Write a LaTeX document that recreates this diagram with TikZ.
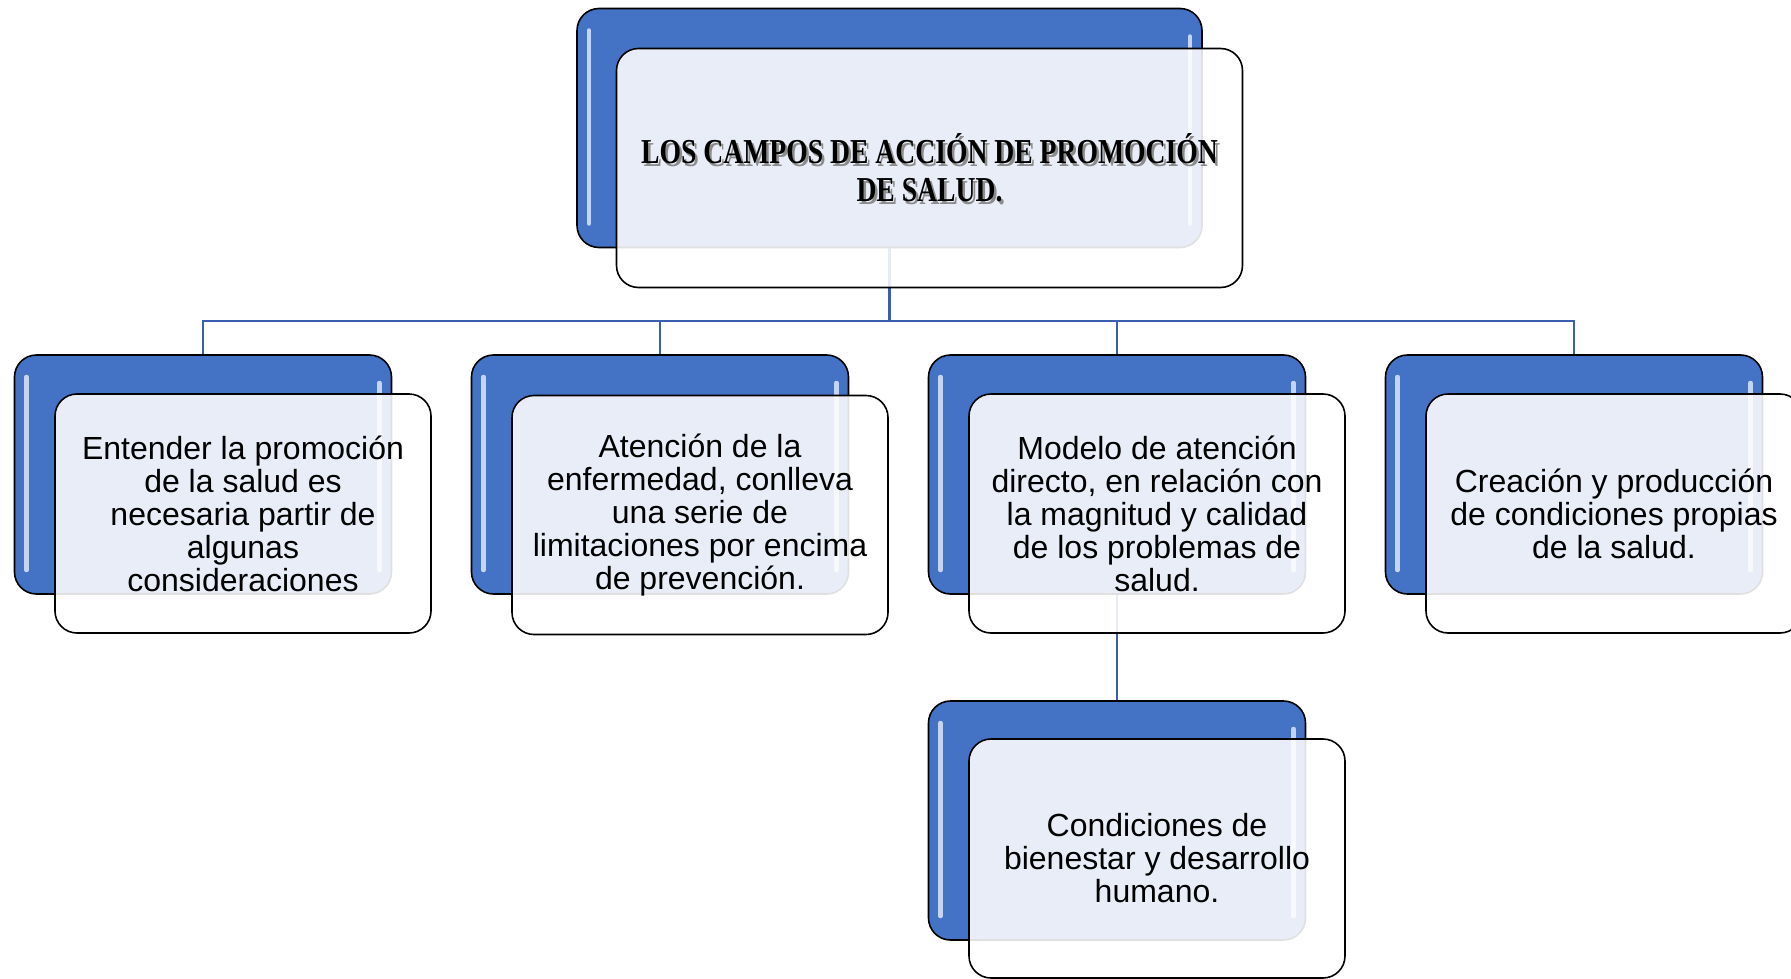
\documentclass[tikz,border=0pt]{standalone}
\usepackage{fontspec}
\setmainfont{Liberation Sans}
\newfontfamily\titlefont{Liberation Serif}[FakeStretch=0.79]
\definecolor{boxblue}{HTML}{4472C4}
\definecolor{connblue}{HTML}{3A5FAE}
\definecolor{gloss}{HTML}{DCE7FA}
\tikzset{
  backbox/.style={draw=black, line width=1.6pt, fill=boxblue, rounded corners=22pt,
    minimum width=#1, minimum height=239pt, inner sep=0pt,
    path picture={
      \draw[gloss, opacity=.85, line width=4.5pt, line cap=round]
        ([xshift=12pt,yshift=-22pt]path picture bounding box.north west) --
        ([xshift=12pt,yshift=24pt]path picture bounding box.south west);
      \draw[gloss, opacity=.85, line width=4.5pt, line cap=round]
        ([xshift=-12pt,yshift=-28pt]path picture bounding box.north east) --
        ([xshift=-12pt,yshift=24pt]path picture bounding box.south east);
    }},
  frontbox/.style={draw=black, line width=1.6pt, fill=white, fill opacity=0.88,
    text opacity=1, rounded corners=22pt, minimum width=#1, minimum height=239pt,
    inner sep=0pt, align=center, font=\fontsize{32}{33}\selectfont},
  conn/.style={draw=connblue, line width=2.8pt},
  titletext/.style={align=center, inner sep=0pt,
    font=\titlefont\bfseries\fontsize{35}{38}\selectfont}
}
\begin{document}
\begin{tikzpicture}[x=1pt,y=-1pt]
\useasboundingbox (0,0) rectangle (1791,979);
\coordinate (bus) at (0,321);
% back boxes
\node[backbox=625pt] (tb) at (889.5,128) {};
\node[backbox=377pt] (c1) at (203,474.5) {};
\node[backbox=377pt] (c2) at (660,474.5) {};
\node[backbox=377pt] (c3) at (1117,474.5) {};
\node[backbox=377pt] (c4) at (1574,474.5) {};
\node[backbox=377pt] (c5) at (1117,820.5) {};
% connectors
\draw[conn] (tb.south) |- (bus -| c1.north) -- (c1.north);
\draw[conn] (tb.south) |- (bus -| c2.north) -- (c2.north);
\draw[conn] (tb.south) |- (bus -| c3.north) -- (c3.north);
\draw[conn] (tb.south) |- (bus -| c4.north) -- (c4.north);
\draw[conn] (c3.south) -- (c5.north);
% front boxes
\node[frontbox=626pt] (tf) at (929.5,168) {};
\node[titletext, text=black!45] (tshadow) at ([xshift=2.5pt,yshift=-2.5pt]tf.center)
  {LOS CAMPOS DE ACCIÓN DE PROMOCIÓN\\DE SALUD.};
\node[titletext, text=black] (title) at (tf.center)
  {LOS CAMPOS DE ACCIÓN DE PROMOCIÓN\\DE SALUD.};
\node[frontbox=376pt] (f1) at (243,513.5)
  {Entender la promoción\\de la salud es\\necesaria partir de\\algunas\\consideraciones};
\node[frontbox=376pt] (f2) at (700,515)
  {Atención de la\\enfermedad, conlleva\\una serie de\\limitaciones por encima\\de prevención.};
\node[frontbox=376pt] (f3) at (1157,513.5)
  {Modelo de atención\\directo, en relación con\\la magnitud y calidad\\de los problemas de\\salud.};
\node[frontbox=376pt] (f4) at (1614,513.5)
  {Creación y producción\\de condiciones propias\\de la salud.};
\node[frontbox=376pt] (f5) at (1157,858.5)
  {Condiciones de\\bienestar y desarrollo\\humano.};
\end{tikzpicture}
\end{document}
